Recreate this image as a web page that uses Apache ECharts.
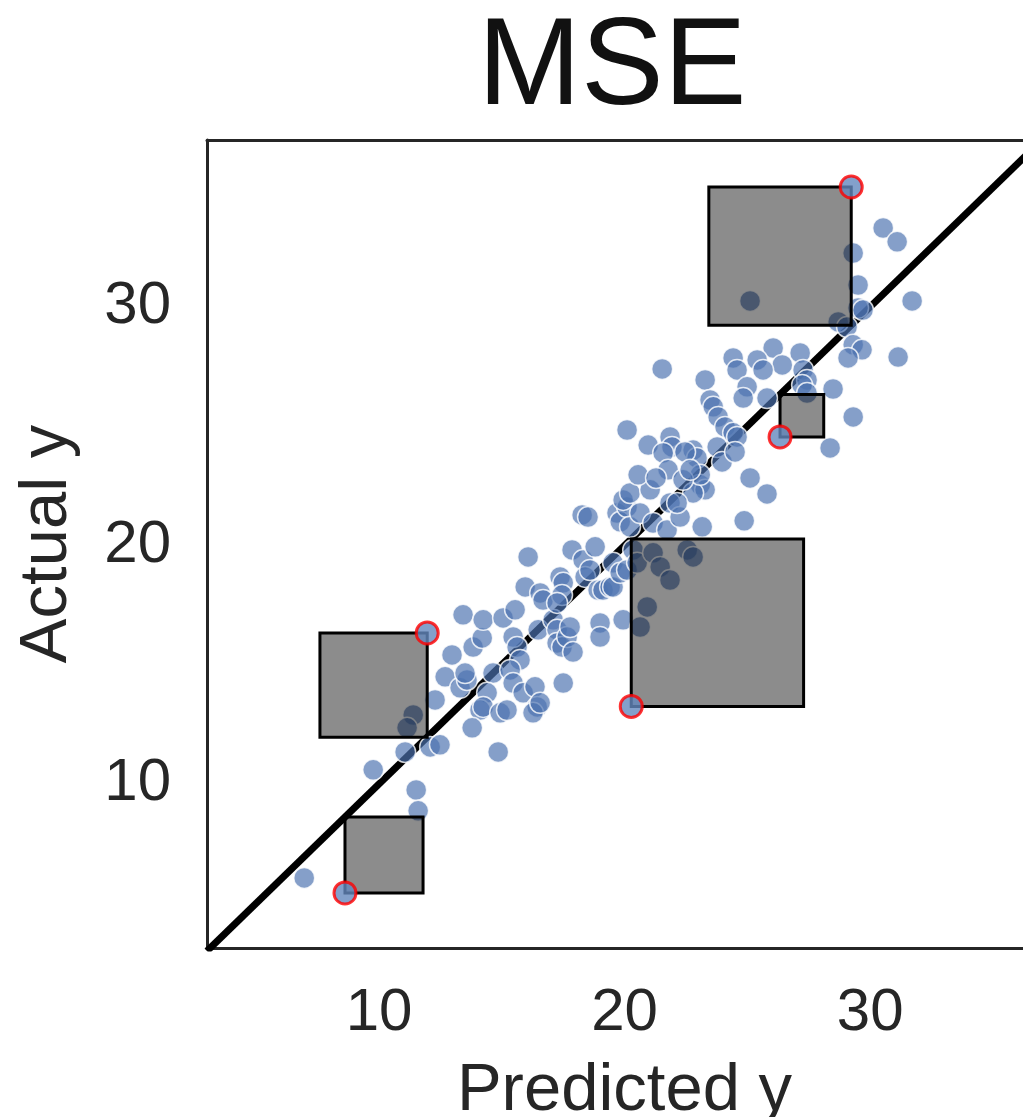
<!DOCTYPE html>
<html><head><meta charset="utf-8">
<script src="https://cdn.jsdelivr.net/npm/echarts@6/dist/echarts.min.js"></script>
<style>html,body{margin:0;padding:0;background:#fff}#c{width:1023px;height:1117px}</style>
</head><body><div id="c"></div>
<script>
const chartTitle = 'MSE';
const xName = 'Predicted y';
const yName = 'Actual y';
const tickValues = [10, 20, 30];
const xLimits = [2.99, 37.0];
const yLimits = [3.12, 37.0];

const predicted = [6.95,9.76,11.51,11.59,11.06,11.39,11.14,12.08,12.48,12.28,12.69,12.97,13.30,13.58,13.50,13.83,14.20,13.42,14.24,14.64,14.40,14.11,14.24,13.79,14.93,15.21,14.85,15.05,15.54,15.46,15.62,15.74,15.34,15.46,15.87,16.35,16.44,16.27,16.56,17.50,16.07,15.95,16.56,16.68,16.48,17.09,17.25,17.25,17.45,17.66,17.78,17.90,17.37,17.50,17.45,17.25,17.86,18.31,18.39,18.59,18.27,18.51,18.80,18.92,19.12,19.41,19.53,19.00,19.00,19.53,19.82,20.10,19.94,19.69,19.82,20.10,19.94,20.22,20.22,20.63,20.35,20.51,21.04,20.92,20.63,21.16,21.45,21.85,21.16,21.73,21.85,22.26,22.55,22.79,23.16,23.08,23.28,22.79,22.14,24.87,25.80,30.53,31.10,29.31,29.51,25.11,29.51,29.71,31.71,28.70,29.06,29.31,29.67,29.10,31.14,26.05,27.15,26.42,27.27,27.43,27.23,27.43,28.49,29.31,28.37,24.42,24.58,25.40,25.64,21.53,23.28,24.99,24.83,23.48,23.61,23.81,24.09,24.42,24.58,25.80,20.10,20.96,21.85,21.93,21.57,22.79,22.95,22.46,23.77,23.97,24.50,20.55,25.11,23.08,21.77,22.38,22.67,21.28];
const actual = [6.06,10.59,9.75,8.87,11.34,12.89,12.35,11.55,11.64,13.52,14.49,15.41,14.03,14.36,14.65,15.74,16.12,17.09,16.88,14.65,13.82,13.10,13.23,12.35,12.98,13.10,11.34,16.96,17.30,16.16,15.74,15.20,14.78,14.23,13.82,14.07,13.23,12.98,13.40,14.23,19.52,18.26,18.01,17.71,16.46,16.88,16.46,15.91,15.74,16.16,16.58,15.53,18.68,18.43,17.92,17.59,19.81,19.39,18.68,18.97,21.28,21.19,19.94,18.13,18.13,18.26,18.26,16.75,16.16,19.27,18.85,18.97,16.88,21.36,20.99,21.61,21.91,22.20,20.78,21.36,19.81,19.27,22.33,17.42,16.58,19.69,19.10,18.55,20.94,20.65,21.78,21.19,19.81,19.52,20.78,22.54,22.33,22.20,21.78,21.03,22.16,33.31,32.73,32.26,30.92,30.25,29.96,29.87,30.25,29.37,29.16,28.41,28.20,27.86,27.90,28.28,28.07,27.57,27.36,26.94,26.73,26.39,26.56,25.39,24.09,27.86,27.36,27.78,27.36,27.40,26.94,26.65,26.18,26.10,25.81,25.39,24.97,24.72,24.55,26.18,24.84,24.21,24.55,24.13,23.88,24.00,23.67,23.92,24.13,23.50,23.92,22.96,22.83,22.96,23.17,22.75,23.17,22.83];

const hlPredicted = [8.61, 11.96, 20.27, 26.33, 29.23];
const hlActual = [5.43, 16.33, 13.25, 24.55, 35.03];

const FONT = "'Liberation Sans', Arial, Helvetica, sans-serif";
const TXT = '#262626';
const FRAME = {show: true, onZero: false, lineStyle: {color: '#262626', width: 3}};

const pts = predicted.map((p, i) => [p, actual[i]]);
const hl = hlPredicted.map((p, i) => [p, hlActual[i]]);

const chart = echarts.init(document.getElementById('c'), null, {renderer: 'canvas'});
chart.setOption({
  animation: false,
  backgroundColor: '#fff',
  title: {
    text: chartTitle, left: 607, top: 3, textAlign: 'center',
    textStyle: {fontFamily: FONT, fontSize: 124, fontWeight: 'normal', color: '#111'}
  },
  grid: {left: 207, top: 140, width: 835, height: 808, show: false, containLabel: false, outerBoundsMode: 'none'},
  xAxis: [{
    type: 'value', min: xLimits[0], max: xLimits[1], position: 'bottom',
    name: xName, nameLocation: 'middle', nameGap: 110,
    nameTextStyle: {fontFamily: FONT, fontSize: 67, color: TXT},
    axisLine: FRAME, axisTick: {show: false}, splitLine: {show: false},
    axisLabel: {customValues: tickValues, fontFamily: FONT, fontSize: 60, color: TXT, margin: 35}
  }, {
    type: 'value', min: xLimits[0], max: xLimits[1], position: 'top',
    axisLine: FRAME, axisTick: {show: false}, splitLine: {show: false}, axisLabel: {show: false}
  }],
  yAxis: {
    type: 'value', min: yLimits[0], max: yLimits[1],
    name: yName, nameLocation: 'middle', nameGap: 126,
    nameTextStyle: {fontFamily: FONT, fontSize: 67, color: TXT},
    axisLine: FRAME, axisTick: {show: false}, splitLine: {show: false},
    axisLabel: {customValues: tickValues, fontFamily: FONT, fontSize: 60, color: TXT, margin: 36}
  },
  series: [
    {
      type: 'line', data: [[xLimits[0], xLimits[0]], [xLimits[1], xLimits[1]]],
      showSymbol: false, symbol: 'none', clip: true, z: 1,
      lineStyle: {color: '#000', width: 7}
    },
    {
      type: 'scatter', data: pts, symbolSize: 21, z: 2,
      itemStyle: {color: 'rgba(76,114,176,0.85)', borderColor: '#fff', borderWidth: 1.5}
    },
    {
      type: 'custom', data: hl, z: 3, clip: true,
      renderItem: function (params, api) {
        const p = api.value(0), a = api.value(1);
        const c1 = api.coord([p, a]);
        const c2 = api.coord([2 * p - a, p]);
        return {
          type: 'rect',
          shape: {x: Math.min(c1[0], c2[0]), y: Math.min(c1[1], c2[1]), width: Math.abs(c2[0] - c1[0]), height: Math.abs(c2[1] - c1[1])},
          style: {fill: 'rgba(0,0,0,0.45)', stroke: '#000', lineWidth: 3}
        };
      }
    },
    {
      type: 'scatter', data: hl, symbolSize: 22, z: 4,
      itemStyle: {color: 'rgb(100,136,190)', borderColor: '#ff0000', borderWidth: 3}
    }
  ]
});
</script>
</body></html>
